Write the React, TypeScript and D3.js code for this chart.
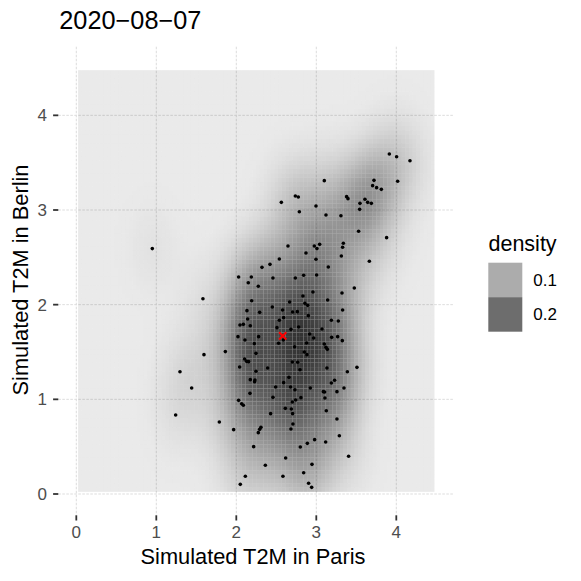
import React from "react";
import * as d3 from "d3";

// simulated T2M ensemble members
const parisT2M = [
  3.913, 4.004, 4.171, 3.1, 3.721, 4.017, 3.704, 3.754, 3.813, 2.738,
  2.775, 3.379, 3.396, 2.563, 3.608, 3.546, 3.642, 3.688, 2.996, 2.788,
  3.542, 3.121, 3.308, 3.529, 3.879, 2.646, 2.975, 3.042, 3.008, 3.338,
  3.329, 2.871, 3.313, 0.95, 2.538, 2.421, 2.996, 3.663, 2.321, 3.15,
  2.029, 2.188, 2.458, 2.738, 2.842, 3.004, 2.15, 2.275, 3.475, 3.321,
  2.958, 2.833, 1.583, 2.192, 2.667, 2.858, 2.892, 3.142, 2.45, 2.133,
  2.292, 2.579, 2.704, 2.763, 3.329, 2.9, 2.142, 2.592, 2.538, 2.046,
  2.088, 2.175, 3.188, 3.275, 2.779, 2.508, 2.683, 3.071, 2.021, 2.279,
  2.108, 2.917, 2.967, 3.192, 3.267, 3.325, 2.225, 2.529, 2.588, 2.879,
  3.1, 3.121, 3.138, 2.729, 1.596, 1.863, 2.246, 2.85, 2.883, 2.104,
  2.129, 2.154, 2.042, 2.7, 2.767, 2.392, 2.796, 3.133, 3.508, 1.296,
  2.246, 3.388, 2.175, 2.233, 2.229, 2.658, 2.592, 3.229, 3.188, 1.442,
  2.492, 2.679, 2.733, 2.925, 3.088, 3.104, 3.258, 3.346, 2.171, 2.458,
  2.808, 2.742, 2.7, 3.108, 2.029, 2.067, 2.088, 2.613, 2.688, 3.125,
  2.704, 2.429, 1.242, 3.258, 1.788, 2.708, 2.308, 2.292, 2.275, 1.967,
  2.683, 3.288, 2.979, 2.888, 3.117, 2.8, 2.217, 3.404, 2.617, 2.363,
  2.946, 2.842, 2.113, 2.583, 2.05, 2.904, 2.942,
];
const berlinT2M = [
  3.592, 3.563, 3.521, 3.31, 3.313, 3.303, 3.257, 3.236, 3.218, 3.148,
  3.137, 3.141, 3.12, 3.081, 3.113, 3.07, 3.081, 3.07, 3.042, 2.982,
  3.007, 2.947, 2.94, 2.775, 2.708, 2.62, 2.62, 2.637, 2.592, 2.648,
  2.606, 2.546, 2.514, 2.592, 2.482, 2.426, 2.479, 2.458, 2.394, 2.398,
  2.292, 2.292, 2.282, 2.282, 2.31, 2.313, 2.232, 2.194, 2.176, 2.123,
  2.134, 2.092, 2.063, 2.042, 2.028, 2.014, 1.993, 2.049, 1.975, 1.937,
  1.919, 1.944, 1.923, 1.926, 1.944, 1.884, 1.849, 1.863, 1.835, 1.785,
  1.792, 1.778, 1.835, 1.827, 1.764, 1.757, 1.739, 1.743, 1.662, 1.662,
  1.627, 1.69, 1.648, 1.655, 1.662, 1.62, 1.588, 1.592, 1.627, 1.595,
  1.585, 1.549, 1.528, 1.556, 1.472, 1.504, 1.486, 1.5, 1.472, 1.426,
  1.401, 1.398, 1.342, 1.394, 1.391, 1.331, 1.313, 1.331, 1.338, 1.292,
  1.296, 1.292, 1.208, 1.204, 1.187, 1.232, 1.176, 1.201, 1.173, 1.12,
  1.13, 1.13, 1.102, 1.12, 1.081, 1.077, 1.081, 1.12, 1.063, 1.021,
  1.018, 0.993, 0.972, 1.014, 0.989, 0.954, 0.937, 0.905, 0.898, 0.88,
  0.849, 0.849, 0.835, 0.792, 0.761, 0.739, 0.704, 0.683, 0.648, 0.68,
  0.687, 0.616, 0.574, 0.535, 0.549, 0.496, 0.5, 0.398, 0.38, 0.303,
  0.313, 0.225, 0.187, 0.187, 0.102, 0.113, 0.07,
];

// the red cross
const observedParis = [2.58];
const observedBerlin = [1.67];

const xTicks = [0, 1, 2, 3, 4];
const yTicks = [0, 1, 2, 3, 4];
const legendBreaks = [0.1, 0.2];
const limits = [0, 4.5];

const FONT = "'Liberation Sans', Arial, Helvetica, sans-serif";
const N_GRID = 100;

// MASS::bandwidth.nrd
function bandwidthNrd(v: number[]) {
  const s = [...v].sort((a, b) => a - b);
  const q = (p: number) => d3.quantileSorted(s, p) as number;
  const h = (q(0.75) - q(0.25)) / 1.34;
  const sd = d3.deviation(v) as number;
  return 4 * 1.06 * Math.min(sd, h) * Math.pow(v.length, -0.2);
}

// MASS::kde2d on a grid spanning the limits
function kde2d(x: number[], y: number[]) {
  const hx = bandwidthNrd(x) / 4;
  const hy = bandwidthNrd(y) / 4;
  const step = (limits[1] - limits[0]) / (N_GRID - 1);
  const g = d3.range(N_GRID).map((i) => limits[0] + i * step);
  const dn = (u: number) => Math.exp(-0.5 * u * u) / Math.sqrt(2 * Math.PI);
  const ax = g.map((gx) => x.map((xi) => dn((gx - xi) / hx)));
  const ay = g.map((gy) => y.map((yi) => dn((gy - yi) / hy)));
  const cells: { x: number; y: number; d: number; i: number; j: number }[] = [];
  for (let i = 0; i < N_GRID; i++) {
    for (let j = 0; j < N_GRID; j++) {
      let s = 0;
      for (let k = 0; k < x.length; k++) s += ax[i][k] * ay[j][k];
      cells.push({ x: g[i], y: g[j], d: s / (x.length * hx * hy), i, j });
    }
  }
  return { cells, step };
}

const W = 581;
const H = 581;
const panel = { left: 58.3, right: 454.3, top: 46.7, bottom: 515.3 };

export default function App() {
  const x = d3.scaleLinear().domain([-0.225, 4.725]).range([panel.left, panel.right]);
  const y = d3.scaleLinear().domain([-0.225, 4.725]).range([panel.bottom, panel.top]);

  const { cells, step } = kde2d(parisT2M, berlinT2M);
  const [dmin, dmax] = d3.extent(cells, (c) => c.d) as [number, number];
  const alpha = d3.scaleLinear().domain([dmin, dmax]).range([0.1, 1]);

  const tw = x(step) - x(0);
  const th = y(0) - y(step);
  const inner = cells.filter((c) => c.i > 0 && c.i < N_GRID - 1 && c.j > 0 && c.j < N_GRID - 1);

  const cx = x(observedParis[0]);
  const cy = y(observedBerlin[0]);
  const arm = 3.6;

  return (
    <svg width={W} height={H} style={{ position: "absolute", left: 0, top: 0, background: "#fff" }}>
      <rect width={W} height={H} fill="#fff" />
      <text x={59.3} y={29.3} fontFamily={FONT} fontSize={25.3} fill="#000">
        2020−08−07
      </text>

      {/* grid */}
      <g stroke="#dddddd" strokeWidth={1} strokeDasharray="2.6,1.4">
        {xTicks.map((t) => (
          <line key={"gx" + t} x1={x(t)} x2={x(t)} y1={panel.top} y2={panel.bottom} />
        ))}
        {yTicks.map((t) => (
          <line key={"gy" + t} x1={panel.left} x2={panel.right} y1={y(t)} y2={y(t)} />
        ))}
      </g>

      {/* density raster */}
      <g>
        {inner.map((c) => (
          <rect
            key={c.i + "-" + c.j}
            x={x(c.x) - tw / 2}
            y={y(c.y) - th / 2}
            width={tw}
            height={th}
            fill="#333333"
            fillOpacity={alpha(c.d)}
          />
        ))}
      </g>

      {/* points */}
      <g fill="#000">
        {parisT2M.map((p, i) => (
          <circle key={i} cx={x(p)} cy={y(berlinT2M[i])} r={1.8} />
        ))}
      </g>
      <g stroke="#ff0000" strokeWidth={2}>
        <line x1={cx - arm} y1={cy - arm} x2={cx + arm} y2={cy + arm} />
        <line x1={cx - arm} y1={cy + arm} x2={cx + arm} y2={cy - arm} />
      </g>

      {/* axes */}
      <g stroke="#333" strokeWidth={1.8}>
        {xTicks.map((t) => (
          <line key={"tx" + t} x1={x(t)} x2={x(t)} y1={panel.bottom} y2={panel.bottom + 5.2} />
        ))}
        {yTicks.map((t) => (
          <line key={"ty" + t} x1={panel.left - 5.2} x2={panel.left} y1={y(t)} y2={y(t)} />
        ))}
      </g>
      <g fontFamily={FONT} fontSize={17} fill="#4d4d4d">
        {xTicks.map((t) => (
          <text key={"lx" + t} x={x(t)} y={538.3} textAnchor="middle">
            {t}
          </text>
        ))}
        {yTicks.map((t) => (
          <text key={"ly" + t} x={47} y={y(t) + 6} textAnchor="end">
            {t}
          </text>
        ))}
      </g>
      <text x={253} y={564.3} textAnchor="middle" fontFamily={FONT} fontSize={21.8} fill="#000">
        Simulated T2M in Paris
      </text>
      <text
        transform={`translate(27.7,280) rotate(-90)`}
        textAnchor="middle"
        fontFamily={FONT}
        fontSize={21.8}
        fill="#000"
      >
        Simulated T2M in Berlin
      </text>

      {/* legend */}
      <text x={488.5} y={251} fontFamily={FONT} fontSize={21.5} fill="#000">
        density
      </text>
      {legendBreaks.map((b, i) => (
        <g key={"lg" + b}>
          <rect x={488.3} y={262.7 + i * 34.5} width={34} height={34.5} fill="#333333" fillOpacity={alpha(b)} />
          <text x={533.3} y={262.7 + i * 34.5 + 17.25 + 6} fontFamily={FONT} fontSize={17} fill="#000">
            {b}
          </text>
        </g>
      ))}
    </svg>
  );
}
